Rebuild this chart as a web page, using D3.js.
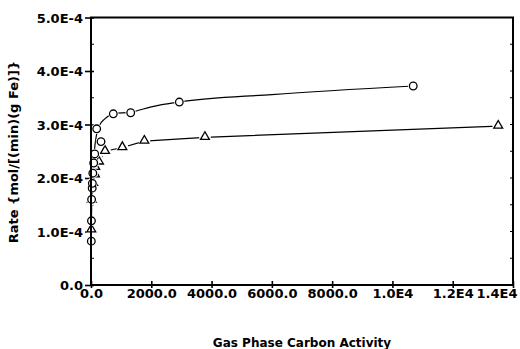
<!DOCTYPE html>
<html><head><meta charset="utf-8">
<script src="https://cdn.jsdelivr.net/npm/d3@7/dist/d3.min.js"></script>
<style>
body{margin:0;background:#fff}
svg{display:block}
text{font-family:"DejaVu Sans",sans-serif;font-weight:bold;fill:#000}
</style>
</head><body>
<svg id="c" width="520" height="349"></svg>
<script>
// ---- data ----
const xTicks = [0, 2000, 4000, 6000, 8000, 10000, 12000, 14000];
const xTickLabels = ["0.0", "2000.0", "4000.0", "6000.0", "8000.0", "1.0E4", "1.2E4", "1.4E4"];
const yTicks = [0, 1e-4, 2e-4, 3e-4, 4e-4, 5e-4];
const yTickLabels = ["0.0", "1.0E-4", "2.0E-4", "3.0E-4", "4.0E-4", "5.0E-4"];
const yMinorTicks = [0.5e-4, 1.5e-4, 2.5e-4, 3.5e-4, 4.5e-4];

// circle series (measured points)
const circleX = [10, 15, 20, 40, 45, 60, 90, 123, 189, 332, 740, 1317, 2930, 10690];
const circleY = [0.82e-4, 1.2e-4, 1.6e-4, 1.81e-4, 1.9e-4, 2.09e-4, 2.28e-4, 2.45e-4, 2.92e-4, 2.68e-4, 3.2e-4, 3.22e-4, 3.42e-4, 3.72e-4];
// smooth curve drawn through the circle series
const circleFitX = [0, 20, 60, 110, 180, 280, 450, 740, 1317, 2000, 2930, 6000, 10690];
const circleFitY = [1.0e-4, 1.7e-4, 2.15e-4, 2.5e-4, 2.8e-4, 2.98e-4, 3.1e-4, 3.2e-4, 3.23e-4, 3.33e-4, 3.42e-4, 3.56e-4, 3.72e-4];

// triangle series
const triX = [10, 25, 75, 130, 140, 265, 465, 1040, 1770, 3780, 13510];
const triY = [1.03e-4, 1.59e-4, 1.9e-4, 2.06e-4, 2.2e-4, 2.3e-4, 2.5e-4, 2.57e-4, 2.69e-4, 2.76e-4, 2.97e-4];

const xTitle = "Gas Phase Carbon Activity";
const yTitle = "Rate {mol/[(min)(g Fe)]}";

// ---- drawing ----
const svg = d3.select("#c");
const L = 91, R = 513, T = 17.5, B = 285;
const x = d3.scaleLinear().domain([0, 14000]).range([L, R]);
const y = d3.scaleLinear().domain([0, 5e-4]).range([B, T]);

// frame
svg.append("rect").attr("x", L).attr("y", T).attr("width", R - L).attr("height", B - T)
  .attr("fill", "none").attr("stroke", "#000").attr("stroke-width", 2);

// axes via d3 axis generators
const xAxis = svg.append("g").attr("transform", `translate(0,${B})`)
  .call(d3.axisBottom(x).tickValues(xTicks).tickSize(4)
    .tickFormat((d, i) => xTickLabels[i]));
xAxis.select(".domain").remove();
xAxis.selectAll(".tick line").attr("y1", -4).attr("y2", 3).attr("stroke-width", 1.6);
xAxis.selectAll(".tick text").attr("y", 4).attr("font-size", 13)
  .attr("font-family", "DejaVu Sans").attr("font-weight", "bold");
xAxis.selectAll(".tick").filter((d, i) => i === xTicks.length - 1).select("text")
  .attr("text-anchor", "end").attr("x", 4);

const yAxis = svg.append("g").attr("transform", `translate(${L},0)`)
  .call(d3.axisLeft(y).tickValues(yTicks).tickSize(5)
    .tickFormat((d, i) => yTickLabels[i]));
yAxis.select(".domain").remove();
yAxis.selectAll(".tick line").attr("x1", -6).attr("x2", 3).attr("stroke-width", 1.6);
yAxis.selectAll(".tick text").attr("x", -8).attr("dy", "0.36em").attr("font-size", 13)
  .attr("font-family", "DejaVu Sans").attr("font-weight", "bold");

// minor ticks (inside)
svg.append("g").selectAll("line").data(yMinorTicks).join("line")
  .attr("x1", L).attr("x2", L + 3).attr("y1", d => y(d)).attr("y2", d => y(d))
  .attr("stroke", "#000").attr("stroke-width", 1);
// right side ticks (inside)
svg.append("g").selectAll("line").data(yTicks.concat(yMinorTicks)).join("line")
  .attr("x1", R - 3).attr("x2", R).attr("y1", d => y(d)).attr("y2", d => y(d))
  .attr("stroke", "#000").attr("stroke-width", 1);

// lines
const circleFit = circleFitX.map((v, i) => [v, circleFitY[i]]);
const tri = triX.map((v, i) => [v, triY[i]]);
const circ = circleX.map((v, i) => [v, circleY[i]]);

svg.append("path").datum(circleFit)
  .attr("d", d3.line().x(d => x(d[0])).y(d => y(d[1])).curve(d3.curveMonotoneX))
  .attr("fill", "none").attr("stroke", "#000").attr("stroke-width", 1.2);
svg.append("path").datum(tri)
  .attr("d", d3.line().x(d => x(d[0])).y(d => y(d[1])))
  .attr("fill", "none").attr("stroke", "#000").attr("stroke-width", 1.2);

// markers with white halo to break the lines
const triSym = d3.symbol().type(d3.symbolTriangle).size(34);
const triHalo = d3.symbol().type(d3.symbolCircle).size(110);
svg.append("g").selectAll("path").data(tri).join("path")
  .attr("transform", d => `translate(${x(d[0])},${y(d[1]) - 0.5})`)
  .attr("d", triHalo).attr("fill", "#fff");
svg.append("g").selectAll("path").data(tri).join("path")
  .attr("transform", d => `translate(${x(d[0])},${y(d[1]) - 0.5})`)
  .attr("d", triSym).attr("fill", "#fff").attr("stroke", "#000").attr("stroke-width", 1.3);

svg.append("g").selectAll("circle").data(circ).join("circle")
  .attr("cx", d => x(d[0])).attr("cy", d => y(d[1])).attr("r", 5.2).attr("fill", "#fff");
svg.append("g").selectAll("circle").data(circ).join("circle")
  .attr("cx", d => x(d[0])).attr("cy", d => y(d[1])).attr("r", 3.8)
  .attr("fill", "#fff").attr("stroke", "#000").attr("stroke-width", 1.3);

// redraw y axis line on top (markers sit on it)
svg.append("line").attr("x1", L).attr("x2", L).attr("y1", T).attr("y2", B)
  .attr("stroke", "#000").attr("stroke-width", 2);

// titles
svg.append("text").attr("x", 302).attr("y", 347).attr("text-anchor", "middle")
  .attr("font-size", 12).text(xTitle);
svg.append("text").attr("transform", "translate(18,152) rotate(-90)")
  .attr("text-anchor", "middle").attr("font-size", 13).text(yTitle);
</script>
</body></html>
